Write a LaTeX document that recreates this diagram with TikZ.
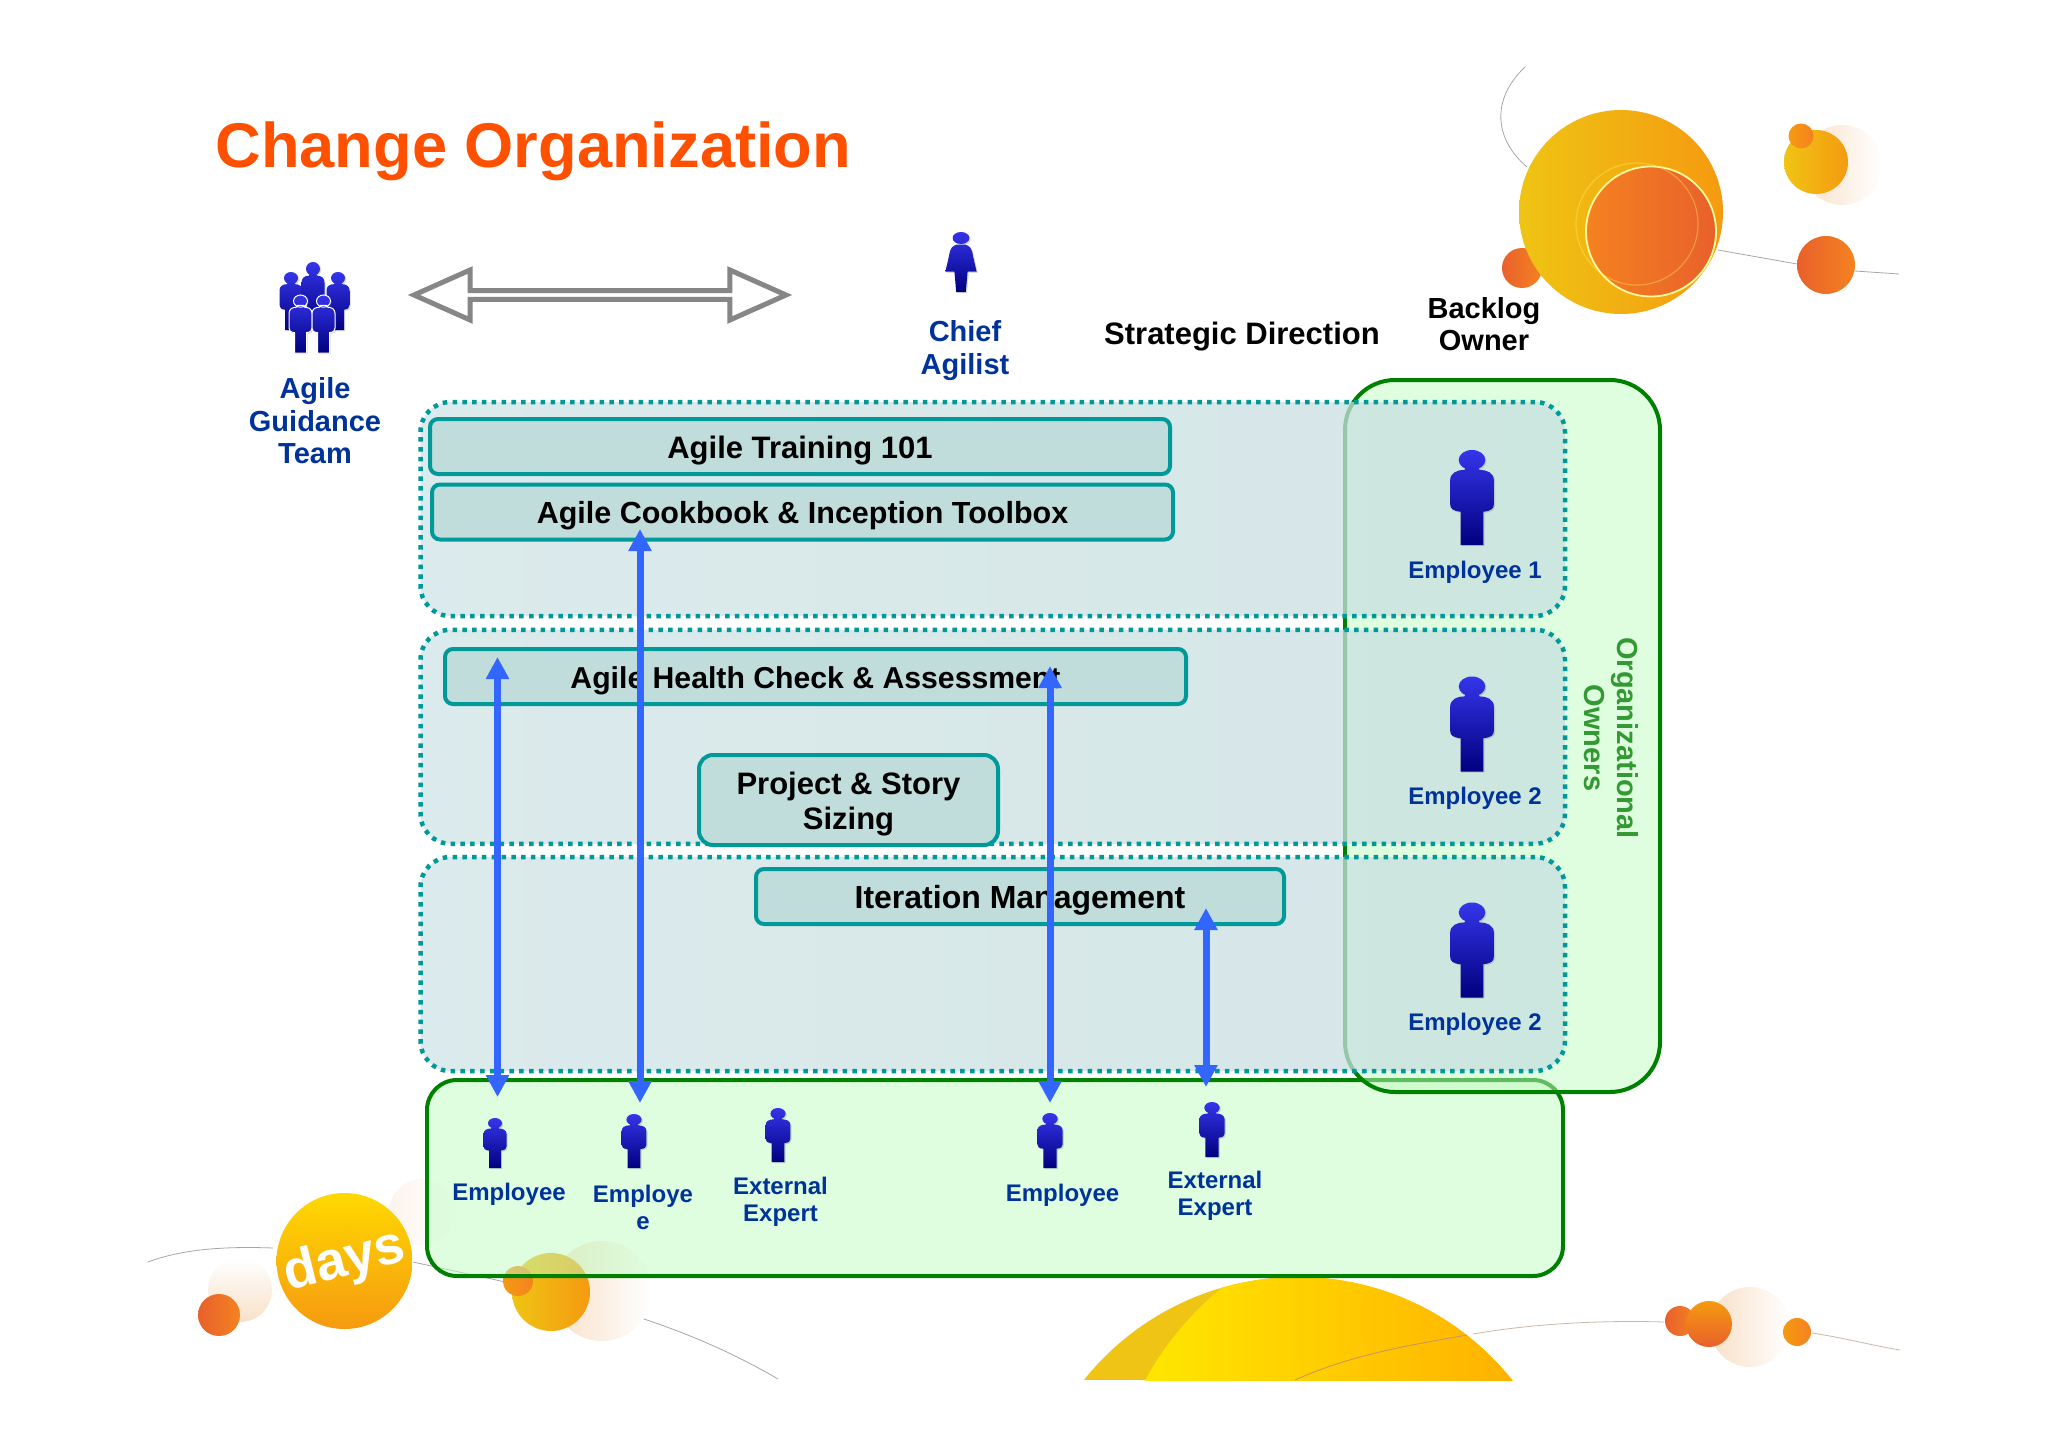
\documentclass[tikz,border=0pt]{standalone}
\usepackage{fontspec}
\setmainfont{Liberation Sans}
\usetikzlibrary{arrows.meta,shapes.arrows,shadows}
\definecolor{orgTitle}{HTML}{FF5000}
\definecolor{orgTeal}{HTML}{009999}
\definecolor{orgBoxFill}{HTML}{C1DDDB}
\definecolor{orgBand}{HTML}{C7DEE0}
\definecolor{orgGreen}{HTML}{008000}
\definecolor{orgGreenFill}{HTML}{BFFBBF}
\definecolor{orgNavy}{HTML}{003399}
\definecolor{orgArrow}{HTML}{3366FF}
\definecolor{orgGray}{HTML}{868686}
\definecolor{orgLeaf}{HTML}{339933}
\definecolor{orgPeach}{HTML}{F8E0C8}
\definecolor{orgHead}{HTML}{3535EA}
\definecolor{orgLegs}{HTML}{00007F}
\definecolor{goldA}{HTML}{EFC414}
\definecolor{goldB}{HTML}{F59A10}
\definecolor{emberA}{HTML}{F58220}
\definecolor{emberB}{HTML}{E8602C}
\tikzset{
	person/.pic={
		\path[pic actions,top color=orgHead,bottom color=orgLegs,drop shadow={opacity=0.3,shadow xshift=1.2pt,shadow yshift=-1.2pt}]
			(0,10.5) ellipse [x radius=14,y radius=10.5]
			(-6,18) -- (6,18) -- (8,21) .. controls (16,21) and (23,24) .. (23,32) -- (23,57) .. controls (23,62) and (20,64) .. (12,65)
			-- (12,100) -- (-12,100) -- (-12,65) .. controls (-20,64) and (-23,62) .. (-23,57) -- (-23,32) .. controls (-23,24) and (-16,21) .. (-8,21) -- cycle;
	},
	chief/.pic={
		\path[pic actions,top color=orgHead,bottom color=orgLegs,drop shadow={opacity=0.3,shadow xshift=1.2pt,shadow yshift=-1.2pt}]
			(0,10) ellipse [x radius=14,y radius=10]
			(-7,21) -- (7,21) .. controls (14,23) and (18,26) .. (20,40) -- (26,66) -- (11,66) -- (8,100) -- (-8,100) -- (-11,66) -- (-26,66) -- (-20,40) .. controls (-18,26) and (-14,23) .. (-7,21) -- cycle;
	}
}
\begin{document}
\begin{tikzpicture}[x=1pt,y=-1pt,font=\bfseries]
	\tikzstyle{panel} =[draw=orgTeal,line width=4.5pt,dash pattern=on 4.5pt off 5.3pt,rounded corners=30pt,left color=orgBand!85!white,right color=orgBand,fill opacity=0.75,draw opacity=1,minimum width=1144.5pt,minimum height=214pt] % dotted band
	\tikzstyle{box} =[draw=orgTeal,line width=4pt,rounded corners=8pt,fill=orgBoxFill,text=black,font=\fontsize{31}{36}\bfseries,align=center,minimum height=55pt,text height=23.5pt,text depth=0pt] % service box
	\tikzstyle{owner} =[draw=orgGreen,line width=4pt,fill=orgGreenFill,fill opacity=0.5] % green area
	\tikzstyle{who} =[text=orgNavy,align=center] % label under a figure
	\tikzstyle{whoBig} =[who,font=\fontsize{29}{33}\bfseries]
	\tikzstyle{whoSmall} =[who,font=\fontsize{24}{27}\bfseries]
	\tikzstyle{plain} =[text=black,align=center] % black heading
	\tikzstyle{flow} =[draw=orgArrow,line width=7pt,{Triangle[length=22pt,width=22pt]}-{Triangle[length=22pt,width=22pt]}]
	\tikzstyle{orbit} =[draw=black!35,line width=0.8pt]
	\tikzstyle{gold} =[left color=goldA,right color=goldB]
	\tikzstyle{ember} =[left color=emberB,right color=emberA]
	\tikzstyle{halo} =[left color=orgPeach,right color=white]
	%
	% top right spheres
	\draw[orbit] (1525,67) .. controls (1490,100) and (1495,140) .. (1527,167);
	\draw[orbit] (1718,250) -- (1797,264);
	\draw[orbit] (1855,271) -- (1899,274);
	\shade[ember] (1522,268) circle (20);
	\shade[gold] (1621,212) circle (102);
	\shade[left color=emberA,right color=emberB] (1651,231.5) circle (65);
	\draw[yellow!40!white,line width=1.8pt] (1651,231.5) circle (65);
	\draw[yellow!60!white,opacity=0.35,line width=1.2pt] (1637,224) circle (61);
	\shade[halo] (1842,165) circle (40);
	\shade[gold] (1816,162) circle (32);
	\shade[left color=goldB,right color=emberA] (1801,136) circle (12.5);
	\shade[ember] (1826,265) circle (29);
	%
	% bottom left spheres
	\draw[orbit] (148,1262) .. controls (180,1250) and (220,1246) .. (273,1248);
	\draw[orbit] (413,1262) .. controls (540,1290) and (660,1310) .. (778,1379);
	\shade[halo,shading angle=180] (240,1290) circle (32);
	\shade[ember] (219,1315) circle (21);
	\shade[left color=orgPeach!35!white,right color=white] (422,1212) circle (33);
	\shade[top color=yellow!70!orange,bottom color=goldB] (344.5,1261) circle (68);
	\node (daysMark) [text=white,rotate=14,font=\fontsize{54}{58}\bfseries] at (345,1262) {days};
	\shade[halo] (602,1291) circle (50);
	\shade[gold] (551,1292) circle (39);
	\shade[left color=goldB,right color=emberA] (518,1281) circle (15);
	%
	% bottom middle and right spheres
	\begin{scope}
		\clip (1000,1260) rectangle (1600,1380);
		\clip (1298,1551) circle (274);
		\fill[goldA] (1000,1260) rectangle (1600,1380);
		\shade[left color=yellow!85!orange,right color=orange!85!yellow] (1420,1530) circle (313);
	\end{scope}
	\draw[orbit,draw=orange!60!black!60] (1295,1380) .. controls (1350,1355) and (1410,1345) .. (1467,1335);
	\draw[orbit,draw=orange!40!black!35] (1473,1334) .. controls (1530,1324) and (1600,1320) .. (1664,1322);
	\draw[orbit,draw=orange!40!black!35] (1735,1324) -- (1782,1328);
	\draw[orbit,draw=orange!40!black!35] (1812,1333) .. controls (1845,1338) and (1870,1345) .. (1900,1350);
	\shade[ember] (1680,1321) circle (15);
	\shade[halo] (1750,1327) circle (40);
	\shade[top color=goldB,bottom color=emberB] (1709,1324) circle (23);
	\shade[left color=goldB,right color=emberA] (1797,1332) circle (14);
	%
	% title and headings
	\node (title) [text=orgTitle,anchor=west,font=\fontsize{63.2}{68}\bfseries] at (212,151) {Change Organization};
	\node (teamLabel) [whoBig] at (315,421) {Agile\\[-0.5pt]Guidance\\[-0.5pt]Team};
	\node (chiefLabel) [whoBig] at (965,351) {Chief\\Agilist};
	\node (strategy) [plain,font=\fontsize{31}{35}\bfseries] at (1242,337) {Strategic Direction};
	\node (backlog) [plain,font=\fontsize{29}{32}\bfseries] at (1484,324) {Backlog\\Owner};
	\node (link) [draw=orgGray,line width=5pt,fill=white,double arrow,double arrow head extend=12pt,double arrow tip angle=48,double arrow head indent=0pt,minimum height=372pt,minimum width=50pt,inner sep=0pt] at (600,295) {};
	\pic (chief) [scale=0.6] at (961,232) {chief};
	\pic (team1) [xscale=0.5,yscale=0.58] at (291,272) {person};
	\pic (team2) [xscale=0.5,yscale=0.58] at (338,272) {person};
	\pic (team3) [xscale=0.5,yscale=0.65] at (313,262) {person};
	\pic (team4) [xscale=0.5,yscale=0.58,draw=white,line width=1pt] at (300.5,295) {person};
	\pic (team5) [xscale=0.5,yscale=0.58,draw=white,line width=1pt] at (323.5,295) {person};
	%
	% green areas
	\node (staff) [owner,rounded corners=30pt,minimum width=1136pt,minimum height=196pt] at (995,1178) {};
	\node (owners) [owner,rounded corners=50pt,minimum width=315pt,minimum height=712pt] at (1502.5,736) {};
	%
	% bands
	\node (bandA) [panel] at (992.75,509) {};
	\node (bandB) [panel] at (992.75,736.75) {};
	\node (bandC) [panel] at (992.75,964) {};
	%
	% boxes
	\node (training) [box,minimum width=740pt] at (800,446.5) {Agile Training 101};
	\node (cookbook) [box,minimum width=741pt,font=\fontsize{30.5}{36}\bfseries] at (802.5,512) {Agile Cookbook \& Inception Toolbox};
	\node (health) [box,minimum width=741pt,font=\fontsize{30.2}{36}\bfseries] at (815.5,676.5) {Agile Health Check \& Assessment};
	\node (sizing) [box,rounded corners=14pt,minimum width=299pt,minimum height=90pt] at (848.5,800) {};
	\node (sizingText) [font=\fontsize{31}{35.5}\bfseries,align=center,text=black] at (848.5,804) {Project \& Story\\Sizing};
	\node (iteration) [box,minimum width=528pt,font=\fontsize{32}{36}\bfseries] at (1020,896.5) {Iteration Management};
	%
	% owners
	\pic (owner1) [scale=0.95] at (1472,450) {person};
	\pic (owner2) [scale=0.95] at (1472,676.5) {person};
	\pic (owner3) [scale=0.95] at (1472,902.5) {person};
	\node (owner1Label) [whoSmall] at (1475,572) {Employee 1};
	\node (owner2Label) [whoSmall] at (1475,798.5) {Employee 2};
	\node (owner3Label) [whoSmall] at (1475,1024.5) {Employee 2};
	\node (ownersLabel) [text=orgLeaf,rotate=-90,align=center,font=\fontsize{29}{33}\bfseries] at (1611,738) {Organizational\\Owners};
	%
	% staff
	\pic (staff1) [scale=0.5] at (495,1118) {person};
	\pic (staff2) [scale=0.54] at (634,1114) {person};
	\pic (staff3) [scale=0.54] at (778,1108) {person};
	\pic (staff4) [scale=0.55] at (1050,1113) {person};
	\pic (staff5) [scale=0.55] at (1212,1102) {person};
	\node (staff1Label) [whoSmall] at (509,1194) {Employee};
	\node (staff2Label) [whoSmall] at (643,1207) {Employe\\e};
	\node (staff3Label) [whoSmall] at (780.5,1202) {External\\Expert};
	\node (staff4Label) [whoSmall] at (1062.5,1195) {Employee};
	\node (staff5Label) [whoSmall] at (1215,1196) {External\\Expert};
	%
	% arrows
	\coordinate (flow1a) at (497.5,657);
	\coordinate (flow1b) at (497.5,1097);
	\coordinate (flow2a) at (640,529);
	\coordinate (flow2b) at (640,1103);
	\coordinate (flow3a) at (1050,666);
	\coordinate (flow3b) at (1050,1103);
	\coordinate (flow4a) at (1206,908);
	\coordinate (flow4b) at (1206,1087);
	\draw[flow] (flow1a) -- (flow1b);
	\draw[flow] (flow2a) -- (flow2b);
	\draw[flow] (flow3a) -- (flow3b);
	\draw[flow] (flow4a) -- (flow4b);
	\useasboundingbox (0,0) rectangle (2048,1447);
\end{tikzpicture}
\end{document}
